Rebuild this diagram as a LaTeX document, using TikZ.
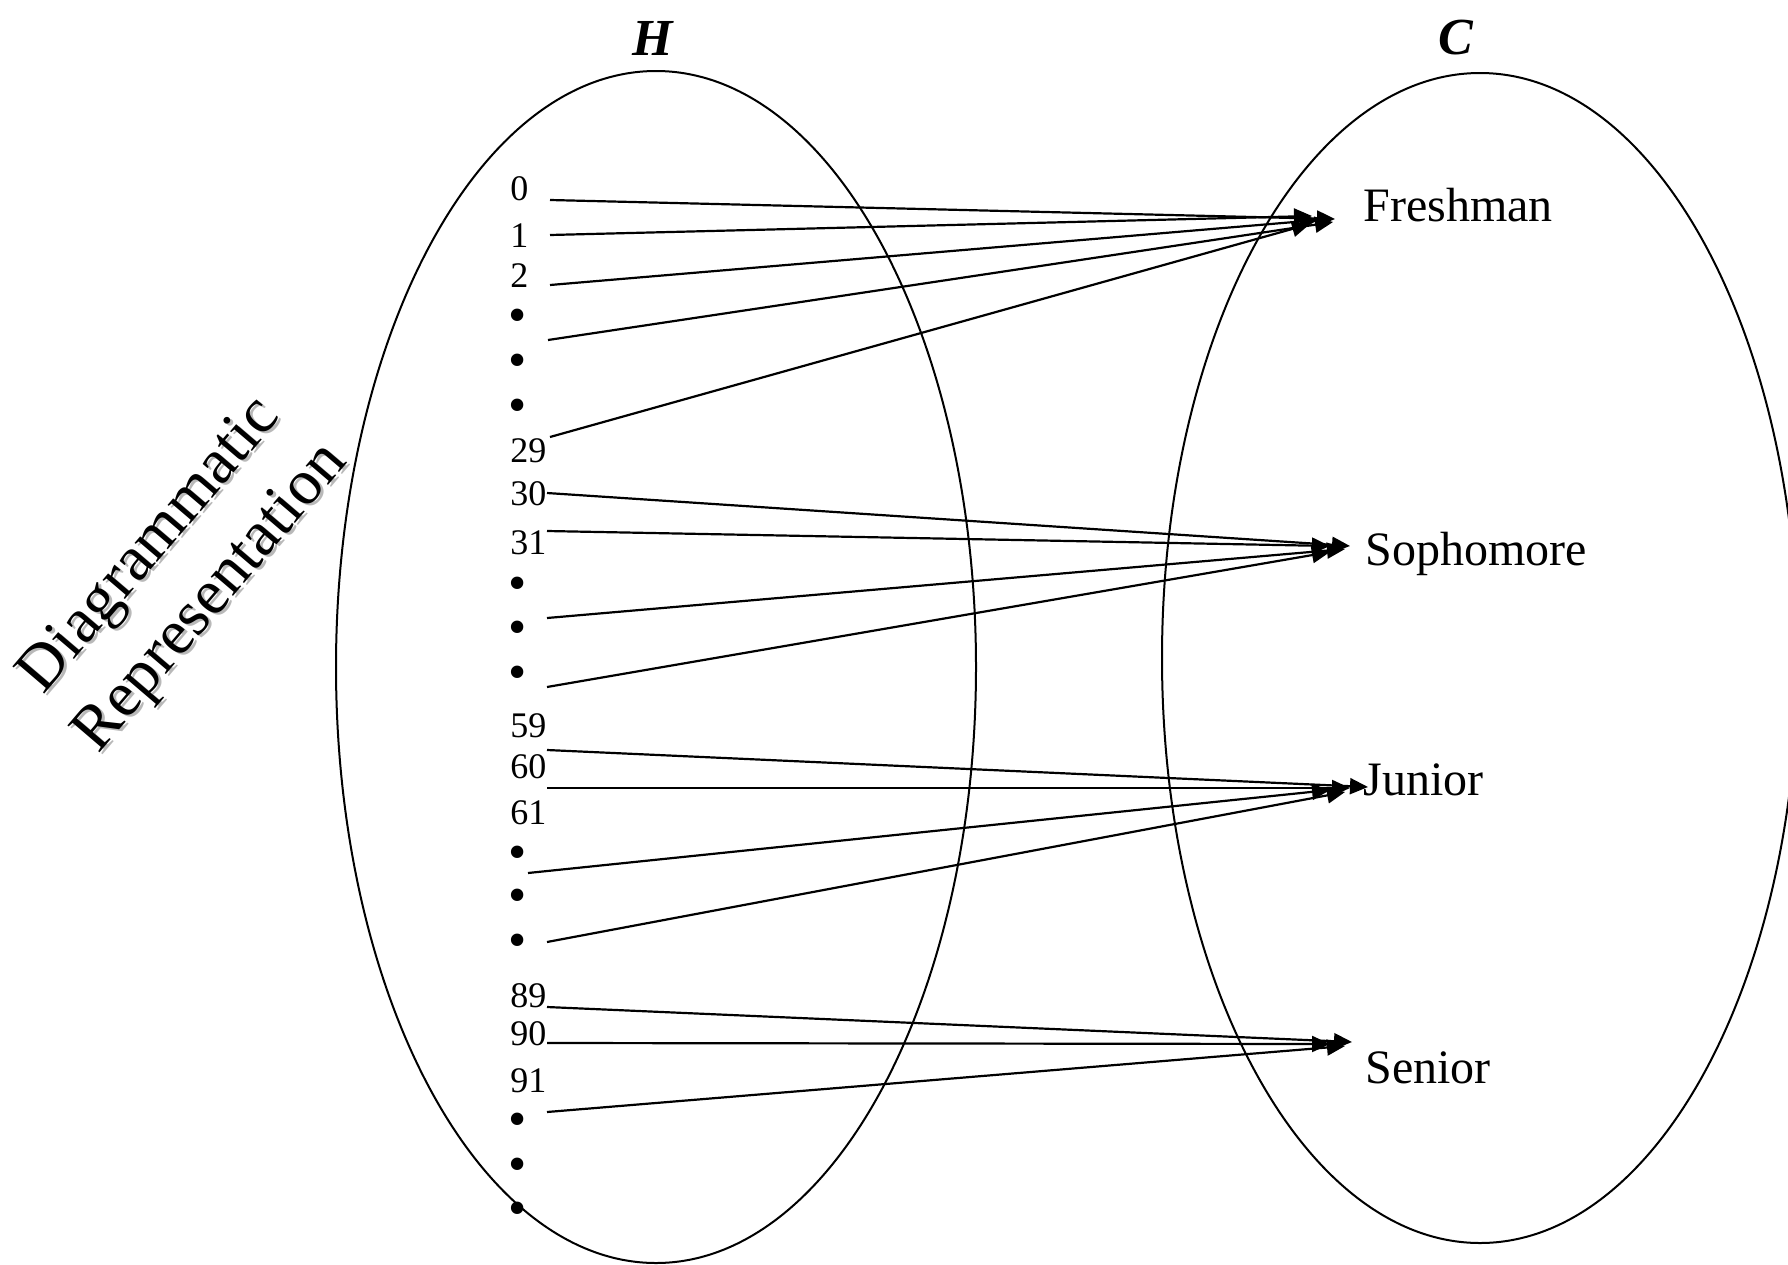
\documentclass[tikz,border=0pt]{standalone}
\usepackage{fontspec}
\setmainfont{Liberation Serif}
\usetikzlibrary{arrows.meta,positioning}

\newcommand{\bigdot}{\fontsize{26}{26}\selectfont\textbullet}

\begin{document}
\begin{tikzpicture}[x=0.5pt,y=-0.5pt,
    elem/.style={anchor=base west,inner sep=0pt,font=\fontsize{18}{18}\selectfont},
    dotelem/.style={elem,yshift=-2.8pt},
    cls/.style={anchor=base west,inner sep=0pt,font=\fontsize{24}{24}\selectfont},
    setname/.style={inner sep=0pt,font=\fontsize{26}{26}\selectfont\bfseries\itshape},
    side/.style={rotate=49.5,align=center,inner sep=0pt,font=\fontsize{32}{40}\selectfont},
    arr/.style={-{Triangle[length=9pt,width=8pt]},line width=1.1pt}]
 \useasboundingbox (0,0) rectangle (1788,1264);
 \clip (0,0) rectangle (1788,1264);
 % the two sets
 \draw[line width=1pt] (656,667) ellipse [x radius=320,y radius=596];
 \draw[line width=1pt] (1480,658) ellipse [x radius=318,y radius=585];
 \node[setname] (H) at (653,38) {H};
 \node[setname] (C) at (1456,38) {C};
 % side title with its shadow
 \node[side,gray!55] (titleshadow) at (185,575) {Diagrammatic\\Representation};
 \node[side] (title) at (182,573) {Diagrammatic\\Representation};
 % elements of H
 \foreach \y/\t [count=\i] in {200/0,247/1,287/2,
   462/29,505/30,554/31,737/59,778/60,824/61,1007/89,1045/90,1092/91}
   \node[elem] (h\i) at (510,\y) {\t};
 \foreach \y [count=\i] in {327,372,417,595,639,684,864,907,952,1131,1176,1220}
   \node[dotelem] (d\i) at (508,\y) {\bigdot};
 % elements of C
 \node[cls] (fr) at (1363,221) {Freshman};
 \node[cls] (so) at (1365,565) {Sophomore};
 \node[cls] (ju) at (1363,795) {Junior};
 \node[cls] (se) at (1365,1083) {Senior};
 % mapping
 \foreach \x/\y [count=\i] in {550/200,550/235,550/285,548/340,550/437,
   547/493,547/531,547/618,547/687,547/750,547/788,528/873,547/942,
   547/1007,547/1043,547/1112}
   \coordinate (s\i) at (\x,\y);
 \foreach \i/\c/\dx/\dy in {1/fr/-28/-2,2/fr/-51/-5,3/fr/-45/-1,4/fr/-30/1,5/fr/-53/3,
   6/so/-15/-19,7/so/-35/-19,8/so/-20/-16,9/so/-35/-13,
   10/ju/5/-8,11/ju/-13/-7,12/ju/-33/-5,13/ju/-18/-3,
   14/se/-13/-41,15/se/-35/-39,16/se/-20/-37}
   \draw[arr] (s\i) -- ([shift={(\dx,\dy)}]\c.base west);
\end{tikzpicture}
\end{document}
